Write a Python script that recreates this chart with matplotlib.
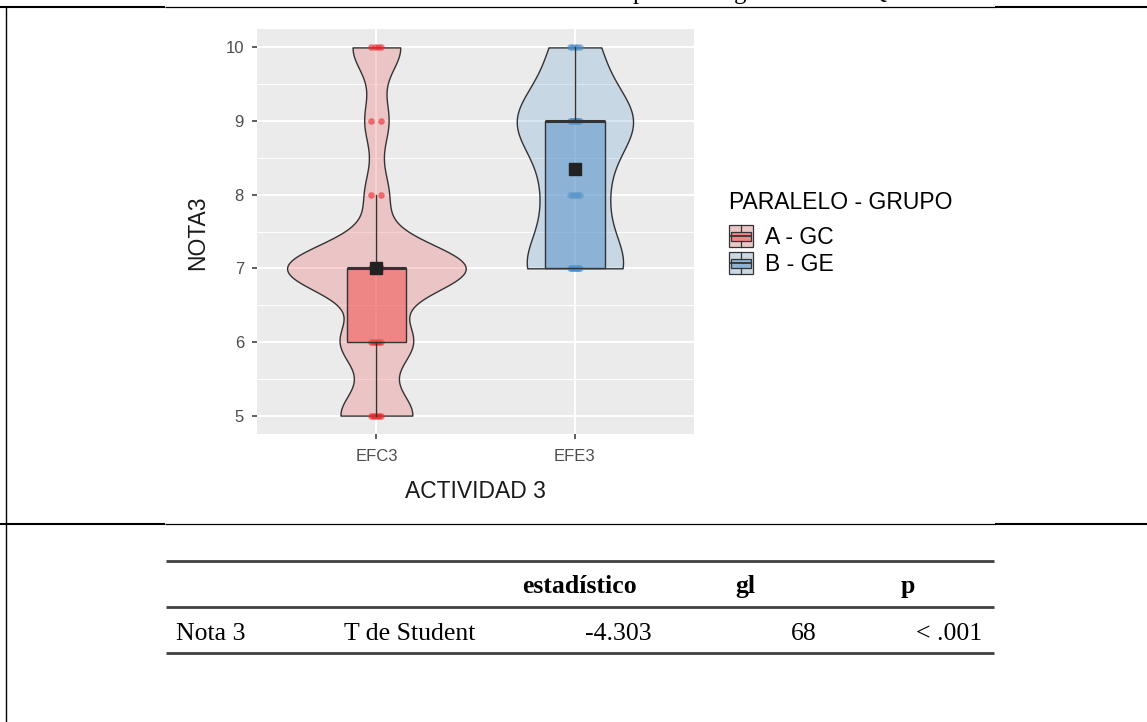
import numpy as np
import matplotlib
matplotlib.use("Agg")
import matplotlib.pyplot as plt
from matplotlib import cbook
from matplotlib.mlab import GaussianKDE
from matplotlib.patches import Rectangle, Patch
from matplotlib.lines import Line2D
from matplotlib.legend_handler import HandlerBase

# NOTA3 scores: how many students got each grade
notas = [5, 6, 7, 8, 9, 10]
conteo_gc = [6, 6, 15, 2, 2, 4]    # A - GC  (EFC3)
conteo_ge = [0, 0, 11, 6, 13, 5]   # B - GE  (EFE3)
actividades = ["EFC3", "EFE3"]
grupos = ["A - GC", "B - GE"]

# Student t table under the chart
tabla_cab = ["estadístico", "gl", "p"]
tabla_fila = ["Nota 3", "T de Student", "-4.303", "68", "< .001"]

# semi-transparent fills (ggplot alpha look), grid shows through
col_violin = [(238/255, 108/255, 112/255, 0.3), (122/255, 172/255, 212/255, 0.3)]
col_box = [(243/255, 94/255, 93/255, 0.6), (101/255, 156/255, 203/255, 0.6)]
leg_violin = ["#ECC5C6", "#C9D8E4"]
leg_box = ["#F08787", "#8DB4D5"]
col_pts = ["#E8262B", "#4A8CC8"]
linea = "#333333"

datos = [np.repeat(notas, conteo_gc).astype(float),
         np.repeat(notas, conteo_ge).astype(float)]


def nrd0(x):
    # same bandwidth rule as R's density()
    sd = np.std(x, ddof=1)
    iqr = np.subtract(*np.percentile(x, [75, 25]))
    return 0.9 * min(sd, iqr / 1.34) * len(x) ** -0.2


def kde(x, coords):
    k = GaussianKDE(x, nrd0(x) / np.std(x, ddof=1))
    return k.evaluate(coords)


class HandlerViolinBox(HandlerBase):
    def __init__(self, box_color):
        super().__init__()
        self.box_color = box_color

    def create_artists(self, legend, orig_handle, xdescent, ydescent,
                       width, height, fontsize, trans):
        x0, y0 = -xdescent, -ydescent
        fondo = Rectangle((x0, y0), width, height, fc=orig_handle.get_facecolor(),
                          ec=linea, lw=0.9, transform=trans)
        caja = Rectangle((x0 + 0.1 * width, y0 + 0.3 * height), 0.8 * width, 0.4 * height,
                         fc=self.box_color, ec=linea, lw=0.9, transform=trans)
        med = Line2D([x0 + 0.1 * width, x0 + 0.9 * width], [y0 + 0.5 * height] * 2,
                     color=linea, lw=1.3, transform=trans)
        b1 = Line2D([x0 + 0.5 * width] * 2, [y0, y0 + 0.3 * height], color=linea, lw=0.9, transform=trans)
        b2 = Line2D([x0 + 0.5 * width] * 2, [y0 + 0.7 * height, y0 + height], color=linea, lw=0.9, transform=trans)
        return [fondo, caja, med, b1, b2]


plt.rcParams["font.family"] = ["Liberation Sans", "DejaVu Sans"]

W, H = 1147, 722
fig = plt.figure(figsize=(W / 100, H / 100), dpi=100)

# document frame + table, drawn in pixel coordinates
doc = fig.add_axes([0, 0, 1, 1], zorder=-1)
doc.set_xlim(0, W)
doc.set_ylim(H, 0)
doc.axis("off")
for y in [6.7, 523.5]:
    doc.hlines(y, 0, 165, color="black", lw=1.5)
    doc.hlines(y, 165, 995, color="black", lw=0.9)
    doc.hlines(y, 995, W, color="black", lw=1.5)
doc.vlines(6, 6.7, H, color="black", lw=1.0)
# descenders of the caption line above, cut by the page crop
for ch, xc in zip("pgQ", [639, 740, 878]):
    doc.text(xc, -1.5, ch, ha="center", va="baseline", fontsize=18, family="Liberation Serif")

for y in [561, 607.3, 653.3]:
    doc.hlines(y, 166, 994, color="#404040", lw=2.0)
for txt, xc in zip(tabla_cab, [579.5, 745, 908]):
    doc.text(xc, 593.3, txt, ha="center", va="baseline", fontsize=18.5,
             fontweight="bold", family="Liberation Serif")
for txt, xc, ha in zip(tabla_fila, [175.7, 344, 651.7, 816.7, 981.7],
                       ["left", "left", "right", "right", "right"]):
    doc.text(xc, 640, txt, ha=ha, va="baseline", fontsize=18.5, family="Liberation Serif")

# ggplot-like violin + box chart
ax = fig.add_axes([257.3 / W, 1 - 434 / H, (694 - 257.3) / W, (434 - 29) / H])
ax.set_facecolor("#EBEBEB")
pos = [1, 2]

stats = cbook.violin_stats(datos, kde, points=512)
dmax = max(s["vals"].max() for s in stats)
anchos = [0.9 * s["vals"].max() / dmax for s in stats]
vp = ax.violin(stats, positions=pos, widths=anchos, showextrema=False)
for body, c in zip(vp["bodies"], col_violin):
    body.set_alpha(None)
    body.set_facecolor(c)
    body.set_edgecolor(linea)
    body.set_linewidth(1.0)
    body.set_zorder(2)

for p, d, c in zip(pos, datos, col_pts):
    for v in np.unique(d):
        n = int((d == v).sum())
        xs = p + np.linspace(-0.025, 0.025, n)
        ax.scatter(xs, np.full(n, v), s=22, color=c, alpha=0.6, lw=0, zorder=2.5)

bstats = cbook.boxplot_stats(datos)
bp = ax.bxp(bstats, positions=pos, widths=0.3, patch_artist=True, showfliers=False,
            showcaps=False, boxprops=dict(edgecolor=linea, linewidth=1.0),
            whiskerprops=dict(color=linea, linewidth=1.0),
            medianprops=dict(color=linea, linewidth=2.2), zorder=3)
for b, c in zip(bp["boxes"], col_box):
    b.set_facecolor(c)

ax.plot(pos, [d.mean() for d in datos], "s", color="#222222", ms=8, zorder=5)

ax.set_xlim(0.4, 2.6)
ax.set_ylim(4.75, 10.25)
ax.set_xticks(pos)
ax.set_xticklabels(actividades)
ax.set_yticks(notas)
ax.set_yticks(np.arange(5.5, 10, 1), minor=True)
ax.grid(which="major", color="white", lw=1.4)
ax.grid(which="minor", axis="y", color="white", lw=0.7)
ax.set_axisbelow(True)
for s in ax.spines.values():
    s.set_visible(False)
ax.tick_params(which="major", length=3.6, width=1.1, color=linea, labelcolor="#4D4D4D", labelsize=12)
ax.tick_params(axis="y", pad=6)
ax.tick_params(axis="x", pad=7.5)
ax.tick_params(which="minor", length=0)

ax.set_xlabel("ACTIVIDAD 3", fontsize=16.5, color="#1A1A1A")
ax.set_ylabel("NOTA3", fontsize=16.5, color="#1A1A1A")
ax.xaxis.set_label_coords(0.5, -0.142)
ax.xaxis.label.set_verticalalignment("center")
ax.yaxis.set_label_coords(-0.136, 0.496)
ax.yaxis.label.set_verticalalignment("center")

handles = [Patch(facecolor=c) for c in leg_violin]
hmap = {h: HandlerViolinBox(bc) for h, bc in zip(handles, leg_box)}
leg = fig.legend(handles, grupos, handler_map=hmap, title="PARALELO - GRUPO",
                 loc="upper left", bbox_to_anchor=(729 / W, 1 - 191 / H), frameon=False,
                 borderpad=0, borderaxespad=0, fontsize=16.5, title_fontsize=16.5,
                 handlelength=1.05, handleheight=1.1, handletextpad=0.5, labelspacing=0.15,
                 alignment="left")
leg._legend_box.sep = 8  # gap between title and keys

fig.savefig("out.png", dpi=100)
